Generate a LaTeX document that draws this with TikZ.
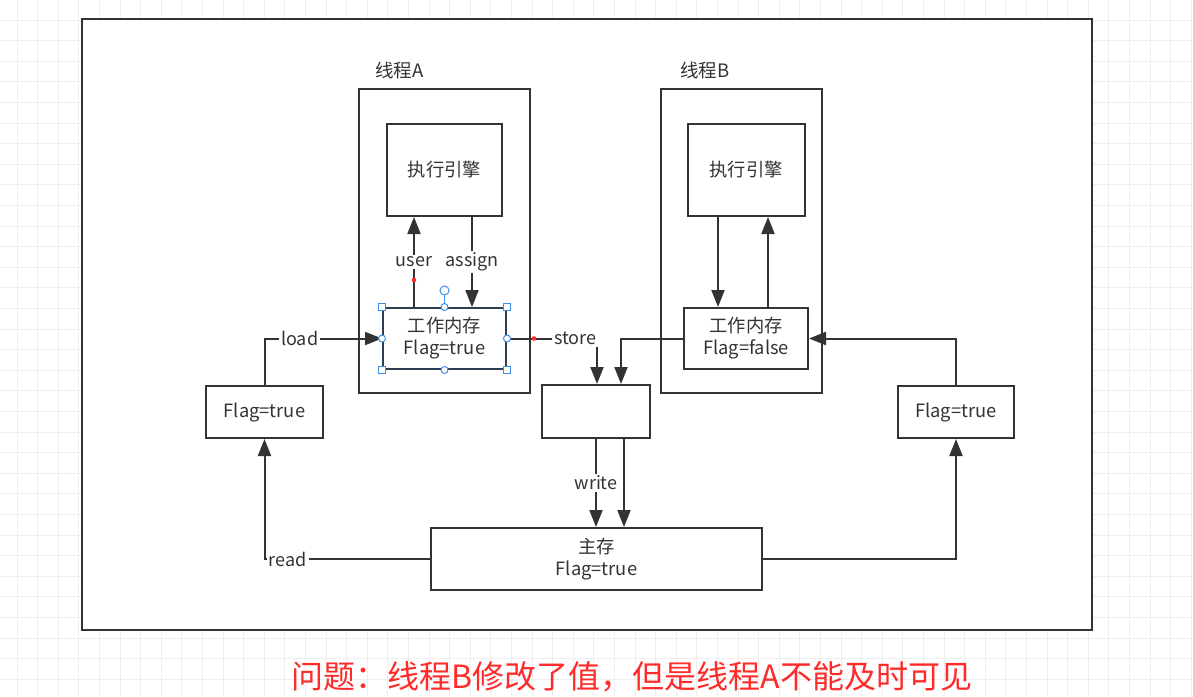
\documentclass[tikz,border=0pt]{standalone}
\usepackage{fontspec}
\setmainfont{Noto Sans CJK SC}
\usetikzlibrary{arrows.meta}
\definecolor{ln}{HTML}{333333}
\definecolor{hb}{HTML}{3D8FE8}
\definecolor{rd}{HTML}{FF2A2A}
\definecolor{gridc}{HTML}{EEEEEE}
\definecolor{wmb}{HTML}{2C3E50}
\begin{document}
\begin{tikzpicture}[x=1pt,y=-1pt,
  box/.style={draw=ln, line width=2pt, fill=white, inner sep=0pt, align=center, text=ln,
    font=\fontsize{18.3}{22}\selectfont},
  conn/.style={draw=ln, line width=2pt, -{Triangle[length=17pt,width=13pt]}},
  lbl/.style={fill=white, text=ln, inner sep=2pt, font=\fontsize{18}{20}\selectfont},
  tlbl/.style={text=ln, inner sep=0pt, anchor=west, font=\fontsize{18.5}{20}\selectfont},
  hsq/.style={draw=hb, fill=white, line width=1pt},
]
\useasboundingbox (0,0) rectangle (1193,696);
\fill[white] (0,0) rectangle (1193,696);
\foreach \i in {0,...,58} \draw[gridc, line width=0.8pt] (17+20.6*\i,0) -- ++(0,696);
\foreach \j in {0,...,33} \draw[gridc, line width=0.8pt] (0,20+20.6*\j) -- ++(1193,0);

% frame
\node[box, line width=2.5pt, minimum width=1010pt, minimum height=611pt] (frame) at (587,324.5) {};

% threads
\node[box, minimum width=171pt, minimum height=304pt] (TA) at (444.5,241) {};
\node[box, minimum width=161pt, minimum height=304pt] (TB) at (741.5,241) {};
\node[tlbl] (TAl) at (375,70) {线程A};
\node[tlbl] (TBl) at (680,70) {线程B};

\node[box, minimum width=115pt, minimum height=92pt] (EA) at (444.5,170) {执行引擎};
\node[box, minimum width=117pt, minimum height=92pt] (EB) at (746,170) {执行引擎};
\node[box, draw=wmb, minimum width=123pt, minimum height=61pt] (WA) at (444.5,338.5) {工作内存\\Flag=true};
\node[box, minimum width=124pt, minimum height=61pt] (WB) at (746,338.5) {工作内存\\Flag=false};

\node[box, minimum width=117pt, minimum height=52pt] (FL) at (264.5,412) {Flag=true};
\node[box, minimum width=116pt, minimum height=52pt] (FR) at (956,412) {Flag=true};
\node[box, minimum width=108pt, minimum height=53pt] (MID) at (596,411.5) {};
\node[box, minimum width=331pt, minimum height=62pt] (MAIN) at (596.5,559) {主存\\Flag=true};

% connectors thread A
\draw[conn] ([xshift=-30.5pt]WA.north) -- node[lbl]{user} ([xshift=-30.5pt]EA.south);
\draw[conn] ([xshift=27.5pt]EA.south) -- node[lbl]{assign} ([xshift=27.5pt]WA.north);
\draw[conn] (FL.north) |- node[lbl,pos=0.65]{load} (WA.west);
\draw[conn] (WA.east) -| node[lbl,pos=0.38]{store} ([xshift=1pt]MID.north);

% thread B
\draw[conn] ([xshift=-28pt]EB.south) -- ([xshift=-28pt]WB.north);
\draw[conn] ([xshift=22pt]WB.north) -- ([xshift=22pt]EB.south);
\draw[conn] (WB.west) -| ([xshift=25pt]MID.north);
\draw[conn] (FR.north) |- (WB.east);

% main memory
\draw[conn] (MID.south) -- node[lbl]{write} ([xshift=-0.5pt]MAIN.north);
\draw[conn] ([xshift=28pt]MID.south) -- ([xshift=27.5pt]MAIN.north);
\draw[conn] (MAIN.west) -| node[lbl,pos=0.43]{read} (FL.south);
\draw[conn] (MAIN.east) -| (FR.south);

% selection handles
\draw[hb, line width=1pt] (WA.north) -- ++(0,-12);
\draw[hsq] ([yshift=16.5pt]WA.north) circle (4.5pt);
\foreach \a in {north west, north east, south west, south east}
  \draw[hsq] ([shift={(-3.5,-3.5)}]WA.\a) rectangle ++(7,7);
\foreach \a in {north, south, east, west}
  \draw[hsq] (WA.\a) circle (3.5pt);
\fill[rd] ([xshift=-30.5pt,yshift=27pt]WA.north) circle (2.3pt);
\fill[rd] ([xshift=27pt]WA.east) circle (2.3pt);

% caption
\node[text=rd, inner sep=0pt, font=\fontsize{32}{36}\selectfont] (Q) at (632,677) {问题：线程B修改了值，但是线程A不能及时可见};
\end{tikzpicture}
\end{document}
